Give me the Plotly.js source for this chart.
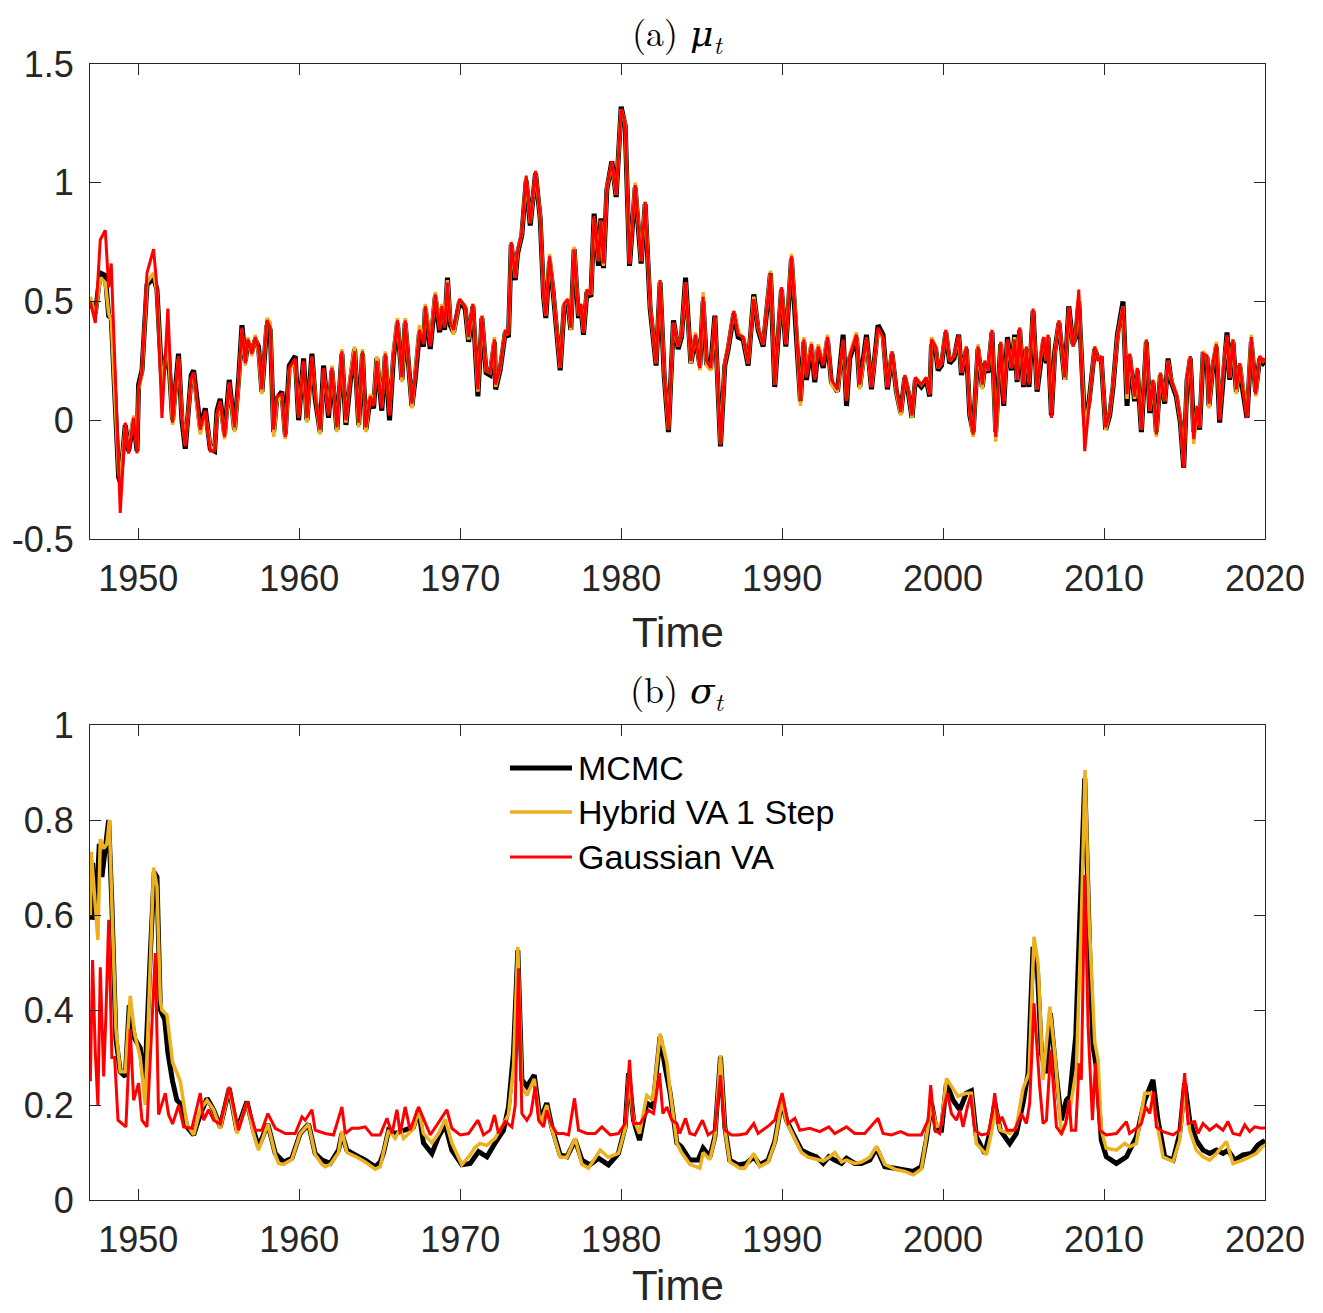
<!DOCTYPE html>
<html>
<head>
<meta charset="utf-8">
<script src="https://cdn.plot.ly/plotly-3.0.1.min.js"></script>
<style>html,body{margin:0;padding:0;background:#fff;}</style>
</head>
<body>
<div id="chart" style="width:1323px;height:1313px;"></div>
<script>
// ---------- Panel (a): mu_t ----------
const tMu = [
1947.02,1947.33,1947.64,1947.95,1948.16,1948.32,1948.78,1948.88,1949.19,1949.40,
1949.71,1949.92,1950.02,1950.23,1950.54,1950.95,1951.16,1951.47,1951.84,1952.13,
1952.50,1952.71,1952.92,1953.29,1953.44,1953.85,1954.16,1954.47,1954.74,1954.89,
1955.09,1955.36,1955.65,1955.98,1956.23,1956.44,1956.65,1956.81,1957.06,1957.27,
1957.47,1957.68,1957.99,1958.20,1958.41,1958.61,1958.92,1959.13,1959.38,1959.75,
1959.96,1960.27,1960.48,1960.79,1960.99,1961.30,1961.51,1961.82,1962.03,1962.34,
1962.65,1962.90,1963.17,1963.44,1963.69,1963.93,1964.14,1964.41,1964.62,1964.82,
1965.13,1965.34,1965.61,1965.86,1966.10,1966.38,1966.58,1967.00,1967.20,1967.47,
1967.72,1967.83,1968.14,1968.45,1968.72,1968.86,1969.03,1969.21,1969.38,1969.59,
1969.96,1970.31,1970.52,1970.79,1971.10,1971.35,1971.61,1971.86,1972.13,1972.20,
1972.48,1972.80,1973.00,1973.17,1973.42,1973.56,1973.83,1974.10,1974.35,1974.68,
1974.97,1975.18,1975.32,1975.55,1975.76,1976.00,1976.21,1976.46,1976.69,1976.87,
1977.08,1977.35,1977.50,1977.66,1977.87,1978.12,1978.32,1978.59,1978.74,1978.90,
1979.11,1979.42,1979.69,1980.00,1980.25,1980.52,1980.87,1981.24,1981.49,1981.80,
1982.17,1982.42,1982.67,1982.94,1983.25,1983.54,1983.75,1984.00,1984.33,1984.62,
1984.89,1985.09,1985.30,1985.57,1985.82,1986.17,1986.44,1986.65,1987.00,1987.27,
1987.58,1987.89,1988.24,1988.51,1988.82,1989.28,1989.54,1989.96,1990.23,1990.58,
1990.89,1991.14,1991.35,1991.51,1991.82,1992.03,1992.24,1992.55,1992.82,1993.06,
1993.44,1993.79,1994.00,1994.20,1994.62,1994.82,1995.24,1995.55,1995.96,1996.27,
1996.54,1996.83,1997.10,1997.37,1997.62,1997.83,1998.07,1998.28,1998.65,1998.96,
1999.17,1999.28,1999.54,1999.69,1999.90,2000.17,2000.41,2000.68,2000.97,2001.14,
2001.45,2001.66,2001.87,2002.17,2002.44,2002.59,2002.80,2003.04,2003.27,2003.58,
2003.77,2004.00,2004.24,2004.45,2004.60,2004.76,2005.00,2005.18,2005.34,2005.59,
2005.84,2006.07,2006.25,2006.42,2006.52,2006.73,2006.94,2007.20,2007.56,2007.81,
2008.07,2008.24,2008.43,2008.80,2009.07,2009.42,2009.63,2009.83,2010.10,2010.35,
2010.56,2010.83,2011.18,2011.43,2011.59,2011.90,2012.07,2012.32,2012.63,2012.84,
2013.04,2013.25,2013.50,2013.77,2013.98,2014.18,2014.49,2014.74,2014.95,2015.16,
2015.36,2015.57,2015.78,2015.94,2016.15,2016.40,2016.52,2016.77,2016.98,2017.18,
2017.39,2017.64,2017.81,2018.01,2018.22,2018.43,2018.63,2018.88,2019.15,2019.42,
2019.67,2019.88,2020.00
];
const muMCMC = [
0.50,0.45,0.62,0.61,0.44,0.43,-0.24,-0.26,-0.02,-0.13,
0.00,-0.13,0.15,0.21,0.57,0.60,0.55,0.16,0.32,0.00,
0.28,0.00,-0.12,0.19,0.21,-0.03,0.05,-0.12,-0.13,0.04,
0.09,-0.06,0.17,-0.04,0.17,0.40,0.25,0.33,0.29,0.34,
0.31,0.12,0.40,0.38,-0.05,0.09,0.12,-0.06,0.23,0.27,
0.00,0.26,0.00,0.28,0.09,-0.05,0.23,0.01,0.21,-0.04,
0.28,-0.02,0.16,0.30,-0.02,0.28,-0.04,0.09,0.05,0.26,
0.04,0.27,0.00,0.27,0.41,0.17,0.41,0.06,0.17,0.37,
0.31,0.47,0.30,0.52,0.37,0.47,0.38,0.60,0.40,0.37,
0.50,0.47,0.33,0.48,0.10,0.43,0.20,0.19,0.33,0.13,
0.21,0.37,0.35,0.74,0.59,0.70,0.78,1.01,0.82,1.04,
0.85,0.52,0.43,0.67,0.55,0.35,0.21,0.48,0.50,0.38,
0.72,0.43,0.48,0.36,0.54,0.52,0.87,0.65,0.85,0.64,
0.97,1.09,0.94,1.32,1.24,0.65,0.98,0.66,0.91,0.47,
0.23,0.58,0.19,-0.05,0.42,0.30,0.35,0.60,0.24,0.35,
0.23,0.50,0.24,0.23,0.44,-0.11,0.23,0.30,0.45,0.35,
0.34,0.23,0.53,0.38,0.31,0.62,0.14,0.55,0.31,0.68,
0.37,0.08,0.33,0.17,0.31,0.16,0.30,0.22,0.34,0.16,
0.12,0.36,0.06,0.26,0.35,0.14,0.36,0.13,0.40,0.36,
0.13,0.28,0.12,0.03,0.18,0.12,0.01,0.17,0.14,0.17,
0.10,0.32,0.30,0.21,0.23,0.37,0.24,0.26,0.36,0.19,
0.30,0.02,-0.05,0.30,0.14,0.24,0.20,0.37,-0.05,0.32,
0.06,0.35,0.21,0.36,0.16,0.38,0.14,0.30,0.14,0.46,
0.12,0.26,0.34,0.24,0.35,0.02,0.29,0.41,0.17,0.48,
0.32,0.35,0.50,-0.02,0.08,0.30,0.26,0.26,-0.04,0.02,
0.14,0.36,0.50,0.06,0.27,0.08,0.21,-0.05,0.33,0.03,
0.16,-0.05,0.19,0.07,0.26,0.16,0.10,-0.01,-0.20,0.17,
0.26,-0.05,0.05,-0.04,0.27,0.26,0.06,0.23,0.31,-0.01,
0.19,0.37,0.17,0.33,0.12,0.23,0.12,0.01,0.33,0.12,
0.26,0.24,0.25
];
const muHybrid = [
0.52,0.44,0.60,0.58,0.45,0.42,-0.22,-0.25,-0.03,-0.12,
0.02,-0.12,0.13,0.20,0.58,0.62,0.54,0.14,0.34,-0.02,
0.26,0.02,-0.10,0.17,0.19,-0.06,0.03,-0.11,-0.12,0.02,
0.07,-0.08,0.15,-0.05,0.15,0.38,0.23,0.35,0.27,0.36,
0.29,0.11,0.43,0.41,-0.07,0.08,0.10,-0.08,0.21,0.25,
0.02,0.24,-0.01,0.26,0.11,-0.06,0.21,0.03,0.23,-0.05,
0.30,-0.01,0.18,0.31,-0.03,0.30,-0.05,0.11,0.07,0.27,
0.06,0.29,0.03,0.29,0.43,0.16,0.43,0.05,0.19,0.40,
0.33,0.49,0.32,0.54,0.39,0.49,0.40,0.59,0.42,0.36,
0.51,0.48,0.34,0.49,0.12,0.44,0.21,0.20,0.35,0.14,
0.22,0.38,0.36,0.75,0.60,0.71,0.79,1.02,0.83,1.04,
0.86,0.53,0.44,0.70,0.56,0.36,0.22,0.49,0.51,0.38,
0.73,0.44,0.49,0.37,0.55,0.53,0.85,0.67,0.84,0.65,
0.98,1.08,0.95,1.31,1.25,0.66,1.00,0.67,0.92,0.48,
0.24,0.59,0.20,-0.04,0.41,0.31,0.36,0.58,0.24,0.37,
0.21,0.54,0.23,0.21,0.43,-0.10,0.24,0.31,0.46,0.37,
0.35,0.24,0.52,0.39,0.32,0.63,0.15,0.56,0.32,0.70,
0.38,0.06,0.35,0.19,0.33,0.18,0.32,0.24,0.36,0.15,
0.12,0.33,0.09,0.28,0.37,0.13,0.34,0.14,0.38,0.34,
0.14,0.29,0.12,0.02,0.19,0.13,0.01,0.18,0.15,0.18,
0.11,0.35,0.31,0.22,0.24,0.38,0.25,0.27,0.35,0.20,
0.31,0.03,-0.07,0.32,0.13,0.25,0.21,0.38,-0.09,0.33,
0.08,0.33,0.22,0.35,0.17,0.39,0.15,0.31,0.16,0.46,
0.13,0.27,0.35,0.25,0.36,0.03,0.28,0.42,0.17,0.47,
0.31,0.36,0.52,-0.04,0.07,0.31,0.25,0.27,-0.04,0.03,
0.15,0.35,0.48,0.09,0.28,0.09,0.22,-0.04,0.34,0.04,
0.17,-0.07,0.20,0.08,0.25,0.17,0.11,0.00,-0.19,0.18,
0.27,-0.10,0.06,-0.03,0.29,0.27,0.05,0.24,0.33,0.01,
0.20,0.35,0.18,0.34,0.11,0.24,0.13,0.02,0.36,0.10,
0.27,0.25,0.26
];
const muGauss = [
0.50,0.41,0.76,0.80,0.56,0.66,-0.20,-0.39,-0.01,-0.14,
0.01,-0.14,0.14,0.20,0.62,0.72,0.56,0.01,0.47,-0.01,
0.27,0.01,-0.11,0.18,0.20,-0.04,0.04,-0.13,-0.13,0.03,
0.08,-0.07,0.16,-0.03,0.16,0.39,0.24,0.34,0.28,0.35,
0.30,0.13,0.42,0.39,-0.04,0.10,0.11,-0.07,0.22,0.26,
0.01,0.25,0.01,0.27,0.10,-0.04,0.22,0.02,0.22,-0.03,
0.29,0.00,0.17,0.29,-0.01,0.29,-0.03,0.10,0.06,0.25,
0.05,0.28,0.02,0.28,0.42,0.18,0.42,0.07,0.18,0.38,
0.32,0.48,0.31,0.53,0.38,0.48,0.39,0.58,0.41,0.38,
0.51,0.48,0.35,0.49,0.13,0.44,0.21,0.20,0.34,0.15,
0.22,0.38,0.36,0.75,0.60,0.71,0.79,1.03,0.83,1.05,
0.86,0.53,0.44,0.69,0.56,0.36,0.22,0.49,0.51,0.39,
0.72,0.44,0.49,0.37,0.55,0.53,0.86,0.67,0.84,0.66,
0.98,1.09,0.95,1.31,1.25,0.66,0.99,0.67,0.92,0.48,
0.24,0.59,0.20,-0.04,0.41,0.31,0.36,0.58,0.25,0.36,
0.22,0.52,0.25,0.22,0.44,-0.105,0.24,0.31,0.46,0.36,
0.35,0.24,0.51,0.39,0.32,0.62,0.15,0.56,0.32,0.69,
0.38,0.08,0.34,0.18,0.32,0.17,0.31,0.23,0.35,0.17,
0.13,0.34,0.08,0.27,0.36,0.15,0.35,0.14,0.39,0.35,
0.14,0.29,0.13,0.035,0.19,0.13,0.02,0.18,0.15,0.18,
0.11,0.34,0.31,0.22,0.24,0.38,0.25,0.27,0.36,0.20,
0.31,0.03,-0.06,0.31,0.15,0.25,0.21,0.38,-0.07,0.33,
0.07,0.34,0.22,0.34,0.17,0.39,0.15,0.31,0.15,0.47,
0.13,0.27,0.35,0.25,0.36,0.01,0.28,0.42,0.18,0.48,
0.31,0.36,0.55,-0.13,0.07,0.31,0.25,0.27,-0.03,0.03,
0.15,0.35,0.48,0.11,0.28,0.10,0.22,-0.04,0.34,0.04,
0.17,-0.06,0.20,0.08,0.25,0.17,0.11,0.00,-0.20,0.18,
0.27,-0.08,0.06,-0.03,0.28,0.27,0.07,0.24,0.32,0.00,
0.20,0.36,0.18,0.34,0.13,0.24,0.13,0.01,0.35,0.11,
0.27,0.25,0.26
];

// ---------- Panel (b): sigma_t ----------
const tSigMCMC = [
1947.02,1947.16,1947.33,1947.58,1947.74,1947.95,1948.16,1948.36,1948.61,1948.88,
1949.19,1949.44,1949.77,1950.12,1950.39,1950.75,1950.99,1951.16,1951.37,1951.64,
1951.84,1952.13,1952.40,1952.71,1953.02,1953.44,1953.85,1954.27,1954.68,1955.09,
1955.65,1956.13,1956.75,1957.16,1957.47,1958.05,1958.51,1959.03,1959.54,1960.06,
1960.58,1960.99,1961.41,1961.93,1962.44,1962.65,1962.96,1963.48,1964.10,1964.72,
1965.03,1965.24,1965.55,1965.96,1966.48,1967.10,1967.41,1967.72,1968.24,1968.65,
1969.07,1969.48,1970.10,1970.62,1971.14,1971.66,1972.17,1972.69,1973.00,1973.31,
1973.58,1973.83,1974.14,1974.60,1974.97,1975.38,1975.69,1976.21,1976.63,1977.14,
1977.56,1978.07,1978.59,1979.21,1979.83,1980.25,1980.46,1980.77,1981.14,1981.59,
1981.97,1982.42,1982.73,1983.04,1983.46,1983.75,1984.27,1984.78,1985.09,1985.51,
1985.82,1986.17,1986.44,1986.75,1987.27,1987.78,1988.24,1988.61,1989.13,1989.54,
1990.00,1990.27,1990.68,1991.20,1991.61,1992.13,1992.55,1992.90,1993.27,1993.69,
1994.00,1994.51,1994.93,1995.45,1995.86,1996.38,1997.00,1997.62,1998.14,1998.65,
1998.96,1999.28,1999.59,1999.90,2000.21,2000.62,2001.04,2001.45,2001.76,2002.07,
2002.59,2002.94,2003.21,2003.55,2004.14,2004.55,2004.97,2005.28,2005.59,2005.86,
2006.11,2006.38,2006.67,2007.00,2007.35,2007.66,2007.87,2008.24,2008.49,2008.80,
2009.11,2009.32,2009.52,2009.83,2010.14,2010.77,2011.39,2012.01,2012.53,2013.04,
2013.35,2013.77,2014.29,2014.70,2015.01,2015.32,2015.73,2016.15,2016.56,2016.98,
2017.39,2017.70,2018.12,2018.63,2019.15,2019.57,2019.88,2020.00
];
const sigMCMC = [
0.59,0.71,0.59,0.75,0.68,0.74,0.80,0.62,0.34,0.27,
0.26,0.41,0.34,0.32,0.24,0.52,0.69,0.68,0.40,0.38,
0.31,0.25,0.21,0.20,0.154,0.137,0.18,0.214,0.19,0.154,
0.235,0.147,0.207,0.147,0.112,0.16,0.098,0.08,0.088,0.14,
0.16,0.098,0.084,0.077,0.105,0.14,0.105,0.095,0.084,0.07,
0.08,0.10,0.147,0.14,0.147,0.154,0.19,0.12,0.098,0.133,
0.158,0.105,0.074,0.077,0.102,0.091,0.12,0.147,0.196,0.31,
0.526,0.253,0.239,0.263,0.168,0.204,0.154,0.095,0.091,0.126,
0.084,0.074,0.088,0.074,0.098,0.154,0.267,0.168,0.126,0.204,
0.196,0.344,0.28,0.225,0.12,0.112,0.084,0.084,0.109,0.091,
0.133,0.302,0.154,0.084,0.074,0.077,0.091,0.074,0.084,0.123,
0.21,0.168,0.14,0.105,0.098,0.091,0.077,0.091,0.084,0.077,
0.088,0.077,0.077,0.084,0.109,0.07,0.067,0.063,0.06,0.07,
0.126,0.204,0.147,0.147,0.246,0.21,0.19,0.225,0.23,0.133,
0.098,0.147,0.204,0.147,0.119,0.14,0.204,0.267,0.533,0.484,
0.309,0.267,0.393,0.274,0.168,0.21,0.218,0.344,0.59,0.888,
0.52,0.323,0.281,0.126,0.091,0.077,0.091,0.133,0.21,0.253,
0.168,0.091,0.084,0.14,0.246,0.168,0.126,0.105,0.098,0.105,
0.098,0.105,0.084,0.095,0.098,0.116,0.123,0.12
];
const tSigHybrid = [
1947.02,1947.08,1947.33,1947.49,1947.64,1947.85,1948.05,1948.20,1948.36,1948.61,
1948.88,1949.19,1949.50,1949.77,1950.12,1950.43,1950.75,1950.95,1951.16,1951.37,
1951.47,1951.78,1952.13,1952.61,1953.02,1953.44,1953.85,1954.27,1954.68,1955.09,
1955.65,1956.13,1956.75,1957.16,1957.47,1958.05,1958.51,1958.72,1959.03,1959.54,
1960.06,1960.58,1960.99,1961.41,1961.61,1961.93,1962.44,1962.65,1962.96,1963.48,
1964.10,1964.72,1965.03,1965.34,1965.55,1965.96,1966.27,1966.48,1967.10,1967.41,
1967.72,1968.24,1968.65,1969.07,1969.48,1970.10,1970.62,1970.90,1971.24,1971.66,
1972.17,1972.69,1973.00,1973.31,1973.58,1973.83,1974.14,1974.60,1974.97,1975.38,
1975.69,1976.21,1976.63,1977.14,1977.56,1977.97,1978.39,1978.70,1979.21,1979.83,
1980.25,1980.46,1980.77,1981.14,1981.59,1981.97,1982.42,1982.84,1983.04,1983.46,
1983.75,1984.27,1984.89,1985.09,1985.51,1985.82,1986.17,1986.44,1986.75,1987.37,
1987.68,1988.24,1988.61,1989.13,1989.54,1990.00,1990.27,1990.68,1991.20,1991.61,
1992.13,1992.55,1992.90,1993.27,1993.69,1994.00,1994.51,1994.93,1995.45,1995.86,
1996.38,1997.00,1997.62,1998.14,1998.65,1998.96,1999.28,1999.59,1999.90,2000.21,
2000.93,2001.45,2001.76,2002.07,2002.69,2003.00,2003.27,2003.55,2004.14,2004.55,
2004.97,2005.34,2005.65,2005.90,2006.21,2006.63,2006.94,2007.35,2007.66,2007.87,
2008.28,2008.59,2008.82,2009.07,2009.42,2009.63,2009.83,2010.14,2010.77,2011.28,
2011.59,2012.01,2012.53,2012.94,2013.25,2013.66,2014.29,2014.70,2015.01,2015.32,
2015.73,2016.15,2016.56,2016.98,2017.60,2018.01,2018.63,2019.05,2019.46,2019.83,2020.00
];
const sigHybrid = [
0.60,0.733,0.62,0.547,0.76,0.74,0.75,0.80,0.62,0.36,
0.27,0.27,0.43,0.35,0.30,0.20,0.50,0.70,0.66,0.42,
0.40,0.39,0.29,0.25,0.16,0.137,0.19,0.21,0.19,0.15,
0.237,0.14,0.205,0.14,0.105,0.16,0.095,0.077,0.075,0.085,
0.14,0.16,0.095,0.075,0.07,0.075,0.10,0.145,0.10,0.092,
0.08,0.065,0.07,0.12,0.147,0.13,0.15,0.13,0.15,0.19,
0.14,0.12,0.14,0.17,0.12,0.074,0.095,0.11,0.119,0.115,
0.13,0.16,0.18,0.28,0.533,0.239,0.22,0.255,0.16,0.20,
0.15,0.09,0.09,0.13,0.075,0.067,0.09,0.105,0.09,0.098,
0.15,0.26,0.17,0.14,0.22,0.21,0.35,0.29,0.23,0.12,
0.10,0.075,0.067,0.10,0.085,0.13,0.305,0.15,0.08,0.067,
0.067,0.098,0.07,0.08,0.12,0.21,0.165,0.135,0.10,0.09,
0.085,0.082,0.09,0.10,0.08,0.084,0.077,0.08,0.09,0.113,
0.075,0.065,0.06,0.053,0.065,0.13,0.20,0.155,0.16,0.256,
0.218,0.225,0.225,0.119,0.095,0.14,0.193,0.147,0.14,0.154,
0.235,0.267,0.554,0.498,0.253,0.407,0.309,0.137,0.168,0.189,
0.274,0.59,0.905,0.59,0.333,0.295,0.147,0.109,0.105,0.119,
0.112,0.119,0.225,0.225,0.168,0.091,0.081,0.126,0.232,0.147,
0.105,0.091,0.084,0.098,0.123,0.077,0.084,0.091,0.098,0.112,0.115
];
const tSigGauss = [
1947.02,1947.16,1947.33,1947.49,1947.64,1947.85,1947.99,1948.16,1948.36,1948.53,
1948.74,1948.99,1949.23,1949.50,1949.71,1950.02,1950.23,1950.54,1950.85,1951.06,
1951.26,1951.51,1951.68,1951.88,1952.13,1952.51,1952.82,1953.33,1953.85,1954.06,
1954.37,1954.68,1955.09,1955.65,1956.23,1956.75,1957.27,1957.68,1958.05,1958.51,
1959.13,1959.75,1960.17,1960.37,1960.79,1960.99,1961.61,1962.13,1962.65,1962.86,
1963.27,1963.69,1964.10,1964.51,1965.03,1965.45,1965.76,1966.07,1966.27,1966.58,
1966.89,1967.41,1967.83,1968.14,1968.55,1969.17,1969.48,1970.00,1970.52,1971.10,
1971.45,1971.86,1972.13,1972.38,1972.80,1973.21,1973.42,1973.62,1973.83,1974.14,
1974.39,1974.66,1974.87,1975.18,1975.38,1975.69,1976.00,1976.42,1976.73,1977.10,
1977.35,1977.87,1978.39,1978.80,1979.32,1979.83,1980.25,1980.52,1980.77,1981.18,
1981.70,1982.01,1982.38,1982.59,1982.84,1983.15,1983.46,1983.64,1984.00,1984.27,
1984.58,1985.05,1985.40,1985.82,1986.17,1986.44,1986.85,1987.27,1987.78,1988.24,
1988.51,1989.23,1989.54,1990.00,1990.37,1990.79,1991.10,1991.72,1992.34,1992.90,
1993.27,1994.00,1994.51,1995.13,1995.96,1996.27,1996.79,1997.37,1997.83,1998.65,
1999.07,1999.23,1999.48,1999.79,2000.06,2000.27,2000.52,2000.83,2001.04,2001.24,
2001.51,2001.72,2001.97,2002.38,2002.80,2003.06,2003.21,2003.42,2003.66,2003.98,
2004.45,2004.86,2005.18,2005.38,2005.65,2005.80,2006.00,2006.21,2006.42,2006.69,
2006.87,2007.04,2007.35,2007.62,2007.83,2007.97,2008.24,2008.45,2008.59,2008.80,
2009.01,2009.28,2009.46,2009.73,2010.14,2010.77,2011.39,2011.59,2012.01,2012.32,
2012.59,2012.84,2013.08,2013.25,2013.66,2014.29,2014.70,2015.01,2015.22,2015.63,
2015.84,2016.15,2016.56,2016.98,2017.39,2017.70,2018.01,2018.43,2018.74,2019.05,
2019.36,2019.77,2020.00
];
const sigGauss = [
0.25,0.505,0.31,0.20,0.49,0.26,0.39,0.59,0.30,0.30,
0.168,0.16,0.154,0.36,0.21,0.246,0.168,0.154,0.38,0.52,
0.18,0.21,0.225,0.18,0.16,0.20,0.154,0.151,0.225,0.168,
0.19,0.168,0.16,0.238,0.147,0.207,0.147,0.147,0.182,0.151,
0.14,0.14,0.175,0.168,0.19,0.147,0.14,0.137,0.196,0.14,
0.151,0.151,0.154,0.137,0.137,0.172,0.14,0.19,0.14,0.196,
0.147,0.196,0.161,0.137,0.158,0.19,0.151,0.137,0.14,0.168,
0.137,0.147,0.179,0.14,0.165,0.154,0.20,0.488,0.182,0.168,
0.182,0.239,0.168,0.154,0.189,0.158,0.14,0.14,0.137,0.214,
0.147,0.14,0.14,0.154,0.137,0.14,0.161,0.295,0.161,0.161,
0.189,0.182,0.267,0.182,0.196,0.168,0.161,0.14,0.172,0.14,
0.137,0.168,0.137,0.147,0.263,0.147,0.137,0.137,0.14,0.161,
0.14,0.158,0.168,0.225,0.161,0.172,0.147,0.151,0.144,0.154,
0.14,0.154,0.14,0.14,0.172,0.14,0.137,0.144,0.137,0.137,
0.168,0.242,0.147,0.14,0.196,0.225,0.182,0.168,0.189,0.154,
0.196,0.221,0.147,0.137,0.14,0.182,0.225,0.161,0.175,0.147,
0.147,0.182,0.161,0.204,0.414,0.337,0.239,0.161,0.168,0.316,
0.239,0.154,0.14,0.161,0.211,0.147,0.147,0.288,0.253,0.684,
0.365,0.168,0.288,0.147,0.137,0.14,0.165,0.14,0.151,0.161,
0.196,0.182,0.228,0.154,0.144,0.137,0.147,0.267,0.161,0.165,
0.14,0.161,0.147,0.158,0.147,0.165,0.14,0.137,0.158,0.144,
0.154,0.151,0.152
];

// ---------- Axis ticks and labels ----------
const xTickVals = [1950,1960,1970,1980,1990,2000,2010,2020];
const xTickText = ["1950","1960","1970","1980","1990","2000","2010","2020"];
const yTickValsA = [-0.5,0,0.5,1,1.5];
const yTickTextA = ["-0.5","0","0.5","1","1.5"];
const yTickValsB = [0,0.2,0.4,0.6,0.8,1];
const yTickTextB = ["0","0.2","0.4","0.6","0.8","1"];
const seriesNames = ["MCMC","Hybrid VA 1 Step","Gaussian VA"];
const seriesColors = ["#000000","#EDB120","#FF0000"];
const seriesWidths = [5,3.5,3];

function tr(x, y, i, xa, ya) {
  return {x: x, y: y, type: 'scatter', mode: 'lines', name: seriesNames[i],
    xaxis: xa, yaxis: ya, showlegend: false,
    line: {color: seriesColors[i], width: seriesWidths[i], shape: 'linear'}};
}

const data = [
  tr(tMu, muMCMC, 0, 'x', 'y'),
  tr(tMu, muHybrid, 1, 'x', 'y'),
  tr(tMu, muGauss, 2, 'x', 'y'),
  tr(tSigMCMC, sigMCMC, 0, 'x2', 'y2'),
  tr(tSigHybrid, sigHybrid, 1, 'x2', 'y2'),
  tr(tSigGauss, sigGauss, 2, 'x2', 'y2')
];

const axCol = '#262626';
const tickFont = {family: 'Liberation Sans, Arial, Helvetica, sans-serif', size: 36, color: axCol};
function xax(anchor) {
  return {anchor: anchor, domain: [0, 1], range: [1947, 2020], tickmode: 'array',
    tickvals: xTickVals, ticktext: xTickText, ticks: 'inside', ticklen: 11, tickwidth: 1,
    tickcolor: axCol, showline: true, linecolor: axCol, linewidth: 1, mirror: 'ticks',
    showgrid: false, zeroline: false, tickfont: tickFont, ticklabelstandoff: 8};
}
function yax(anchor, dom, rng, tv, tt) {
  return {anchor: anchor, domain: dom, range: rng, tickmode: 'array',
    tickvals: tv, ticktext: tt, ticks: 'inside', ticklen: 11, tickwidth: 1,
    tickcolor: axCol, showline: true, linecolor: axCol, linewidth: 1, mirror: 'ticks',
    showgrid: false, zeroline: false, tickfont: tickFont, ticklabelstandoff: 8};
}

const legY = [0.3803, 0.3415, 0.3019];
const shapes = [];
const annotations = [];
for (let i = 0; i < 3; i++) {
  shapes.push({type: 'line', xref: 'paper', yref: 'paper', x0: 0.3574, x1: 0.4102,
    y0: legY[i], y1: legY[i], line: {color: seriesColors[i], width: seriesWidths[i]}});
  annotations.push({xref: 'paper', yref: 'paper', x: 0.414, y: legY[i], xanchor: 'left',
    yanchor: 'middle', showarrow: false, text: seriesNames[i],
    font: {family: 'Liberation Sans, Arial, sans-serif', size: 34, color: '#000'}});
}
const serif = 'Latin Modern Roman, CMU Serif, DejaVu Serif, Liberation Serif, serif';
annotations.push({xref: 'paper', yref: 'paper', x: 0.5, y: 1.0273, xanchor: 'center', yanchor: 'middle',
  showarrow: false, text: '(a) <i>μ<sub>t</sub></i>', font: {family: serif, size: 36, color: '#000'}});
annotations.push({xref: 'paper', yref: 'paper', x: 0.5, y: 0.449, xanchor: 'center', yanchor: 'middle',
  showarrow: false, text: '(b) <i>σ<sub>t</sub></i>', font: {family: serif, size: 36, color: '#000'}});
annotations.push({xref: 'paper', yref: 'paper', x: 0.5, y: 0.5, xanchor: 'center', yanchor: 'middle',
  showarrow: false, text: 'Time', font: {family: 'Liberation Sans, Arial, sans-serif', size: 42, color: axCol}});
annotations.push({xref: 'paper', yref: 'paper', x: 0.5, y: -0.0977, xanchor: 'center', yanchor: 'bottom',
  showarrow: false, text: 'Time', font: {family: 'Liberation Sans, Arial, sans-serif', size: 42, color: axCol}});

const layout = {
  width: 1323, height: 1313,
  margin: {l: 90, r: 58, t: 64, b: 113, pad: 0},
  paper_bgcolor: '#ffffff', plot_bgcolor: '#ffffff',
  showlegend: false,
  font: {family: 'Liberation Sans, Arial, sans-serif', size: 36, color: axCol},
  xaxis: xax('y'),
  yaxis: yax('x', [0.5819, 1], [-0.5, 1.5], yTickValsA, yTickTextA),
  xaxis2: xax('y2'),
  yaxis2: yax('x2', [0, 0.4181], [0, 1], yTickValsB, yTickTextB),
  shapes: shapes,
  annotations: annotations
};

Plotly.newPlot('chart', data, layout, {staticPlot: true, displayModeBar: false});
</script>
</body>
</html>
